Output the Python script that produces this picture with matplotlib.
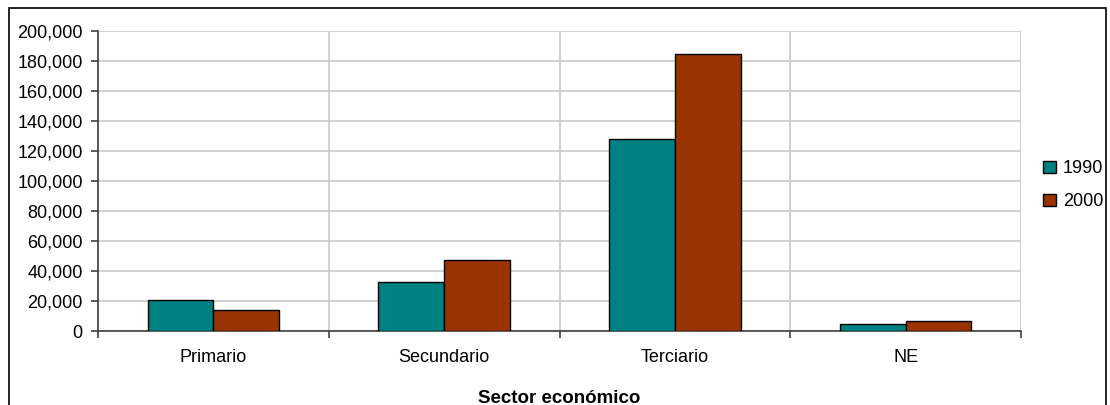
import numpy as np
import matplotlib.pyplot as plt
from matplotlib.patches import Rectangle
from matplotlib.ticker import FuncFormatter, FixedLocator

sectores = ['Primario', 'Secundario', 'Terciario', 'NE']
anios = ['1990', '2000']
valores_1990 = [20700, 32900, 128000, 4700]
valores_2000 = [14000, 47400, 184500, 6700]
colores = ['#008080', '#993300']

plt.rcParams['font.family'] = ['Liberation Sans', 'DejaVu Sans']

fig = plt.figure(figsize=(11.1, 4.05), dpi=100)
ax = fig.add_axes([98 / 1110, 74 / 405, 923 / 1110, 300 / 405])

x = np.arange(len(sectores))
w = 0.285
ax.bar(x - w / 2, valores_1990, w, color=colores[0], edgecolor='black',
       linewidth=1.0, label=anios[0], zorder=3)
ax.bar(x + w / 2, valores_2000, w, color=colores[1], edgecolor='black',
       linewidth=1.0, label=anios[1], zorder=3)

ax.set_xlim(-0.5, len(sectores) - 0.5)
ax.set_ylim(0, 200000)
ax.set_yticks(np.arange(0, 200001, 20000))
ax.yaxis.set_major_formatter(FuncFormatter(lambda v, p: '{:,.0f}'.format(v)))

# ticks en los limites de categoria, etiquetas en el centro
ax.xaxis.set_major_locator(FixedLocator(np.arange(-0.5, len(sectores), 1.0)))
ax.set_xticklabels([])
ax.xaxis.set_minor_locator(FixedLocator(x))
ax.set_xticklabels(sectores, minor=True)
ax.tick_params(axis='x', which='minor', length=0, pad=13, labelsize=13)
ax.tick_params(axis='x', which='major', length=5, width=1.2, color='#404040')
ax.tick_params(axis='y', length=5, width=1.2, color='#404040', labelsize=13, pad=6)

ax.grid(True, which='major', color='#c8c8c8', linewidth=1.2, zorder=0)
for s in ['top', 'right']:
    ax.spines[s].set_visible(False)
ax.spines['left'].set_color('#404040')
ax.spines['bottom'].set_color('#404040')
ax.spines['left'].set_linewidth(1.2)
ax.spines['bottom'].set_linewidth(1.2)

ax.set_xlabel('Sector económico', fontsize=13.5, fontweight='bold', labelpad=17)

leg = ax.legend(loc='upper left', bbox_to_anchor=(1036 / 1110, 252 / 405),
                bbox_transform=fig.transFigure, frameon=False, fontsize=13,
                handlelength=0.7, handleheight=0.7, handletextpad=0.4,
                labelspacing=0.9, borderaxespad=0)

# marco exterior
fig.patches.append(Rectangle((9 / 1110, -0.02), 1097 / 1110, 1 - 8 / 405 + 0.02,
                             transform=fig.transFigure, fill=False,
                             edgecolor='black', linewidth=1.2))

fig.savefig('out.png', dpi=100)
